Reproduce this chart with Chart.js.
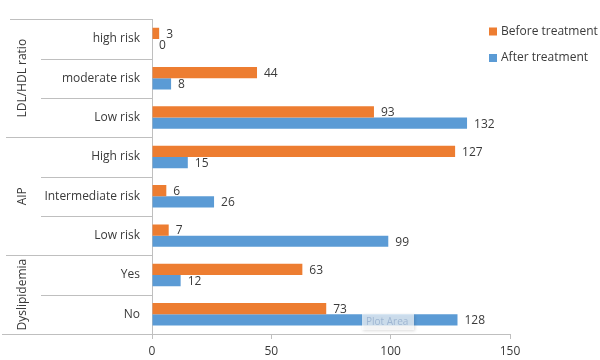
<!DOCTYPE html>
<html><head><meta charset="utf-8">
<script src="https://cdn.jsdelivr.net/npm/chart.js@4/dist/chart.umd.min.js"></script>
<style>html,body{margin:0;padding:0;background:#fff}#wrap{width:600px;height:360px}</style>
</head><body><div id="wrap"><canvas id="c" width="600" height="360"></canvas></div>
<script>
const categories = ['high risk','moderate risk','Low risk','High risk','Intermediate risk','Low risk','Yes','No'];
const groups = [
  {name:'LDL/HDL ratio', from:0, to:2},
  {name:'AIP', from:3, to:5},
  {name:'Dyslipidemia', from:6, to:7}
];
const seriesNames = ['Before treatment','After treatment'];
const beforeValues = [3,44,93,127,6,7,63,73];
const afterValues = [0,8,132,15,26,99,12,128];
const xTicks = [0,50,100,150];

const FONT = "'Open Sans', 'Noto Sans', sans-serif";
const FS = 12;
const TXT = '#3a3a3a';
const LINE = '#bfbfbf';
const colors = ['#ED7D31','#5B9BD5'];

const decor = {
  id:'decor',
  afterDatasetsDraw(chart){
    const ctx = chart.ctx, y = chart.scales.y;
    const area = chart.chartArea;
    ctx.save();
    // data labels
    ctx.font = FS + "px " + FONT;
    ctx.fillStyle = TXT;
    ctx.textBaseline = 'middle';
    ctx.textAlign = 'left';
    chart.data.datasets.forEach((ds,di)=>{
      const meta = chart.getDatasetMeta(di);
      meta.data.forEach((bar,i)=>{
        ctx.fillText(String(ds.data[i]), bar.x + 7, bar.y + 1);
      });
    });
    // separators in label area
    ctx.strokeStyle = LINE; ctx.lineWidth = 1;
    const half = (y.getPixelForValue(1) - y.getPixelForValue(0))/2;
    const line = (x0,x1,yy)=>{ctx.beginPath();ctx.moveTo(x0,Math.round(yy)+0.5);ctx.lineTo(x1,Math.round(yy)+0.5);ctx.stroke();};
    groups.forEach((g,gi)=>{
      const top = y.getPixelForValue(g.from) - half;
      const bot = y.getPixelForValue(g.to) + half;
      line(gi===0?10:6, area.left, top);
      if (gi===groups.length-1) line(2, area.left, bot);
      for(let k=g.from;k<g.to;k++){
        line(41, area.left, y.getPixelForValue(k)+half);
      }
      ctx.save();
      ctx.translate(23,(top+bot)/2);
      ctx.rotate(-Math.PI/2);
      ctx.textAlign='center'; ctx.textBaseline='middle';
      ctx.font = FS + "px " + FONT; ctx.fillStyle = TXT;
      ctx.fillText(g.name,0,0);
      ctx.restore();
    });
    // legend
    ctx.font = FS + "px " + FONT;
    ctx.textAlign='left'; ctx.textBaseline='middle';
    seriesNames.forEach((n,i)=>{
      const cy = 31.5 + i*26.5;
      ctx.fillStyle = colors[i];
      ctx.fillRect(489, cy-4, 8, 8);
      ctx.fillStyle = TXT;
      ctx.fillText(n, 501, cy);
    });
    // "Plot Area" hover tooltip seen in the reference
    ctx.shadowColor='rgba(0,0,0,0.2)'; ctx.shadowBlur=3; ctx.shadowOffsetX=1; ctx.shadowOffsetY=1;
    ctx.fillStyle='rgba(255,255,255,0.7)';
    ctx.fillRect(362,314,52,16);
    ctx.shadowColor='transparent';
    ctx.fillStyle='#9fb6d2';
    ctx.font = "10px " + FONT;
    ctx.fillText('Plot Area',366,322);
    ctx.restore();
  }
};

new Chart(document.getElementById('c'),{
  type:'bar',
  data:{
    labels:categories,
    datasets:[
      {label:seriesNames[0], data:beforeValues, backgroundColor:colors[0]},
      {label:seriesNames[1], data:afterValues, backgroundColor:colors[1]}
    ]
  },
  options:{
    indexAxis:'y',
    responsive:false,
    animation:false,
    devicePixelRatio:1,
    layout:{padding:{top:10,right:90,left:0,bottom:0}},
    datasets:{bar:{barPercentage:1,categoryPercentage:0.57}},
    plugins:{legend:{display:false},tooltip:{enabled:false}},
    scales:{
      x:{
        min:0,max:150,
        afterBuildTicks(s){s.ticks = xTicks.map(v=>({value:v}));},
        afterFit(s){s.height=26;},
        grid:{drawOnChartArea:false,drawTicks:true,tickLength:5,color:LINE},
        border:{color:LINE},
        ticks:{color:TXT,font:{family:FONT,size:FS},padding:5}
      },
      y:{
        afterFit(s){s.width=152;},
        grid:{display:false,drawTicks:false},
        border:{color:LINE},
        ticks:{color:TXT,font:{family:FONT,size:FS},padding:12,autoSkip:false}
      }
    }
  },
  plugins:[decor]
});
</script></body></html>
